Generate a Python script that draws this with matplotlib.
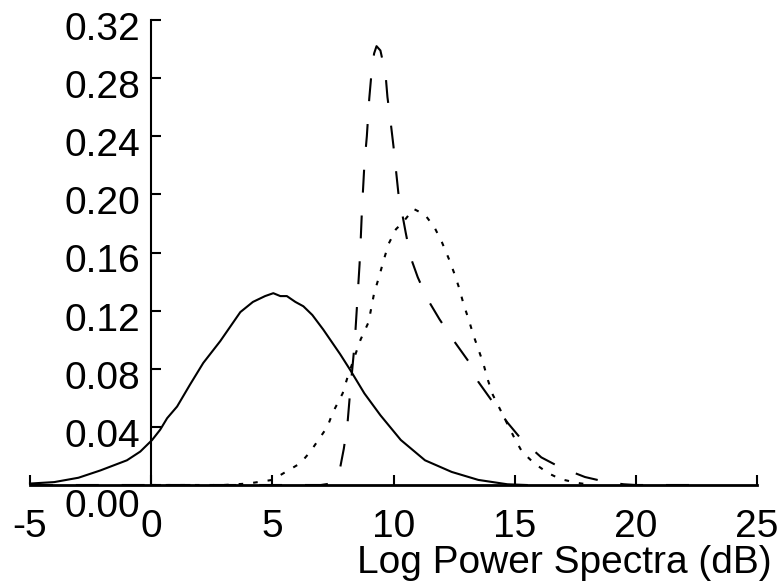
import matplotlib.pyplot as plt
import matplotlib.transforms as mtransforms

plt.rcParams['font.family'] = ['Liberation Sans', 'DejaVu Sans']

# values
solid_x = [-5.0, -4.0, -3.5, -3.0, -2.1, -1.0, -0.45, 0.04, 0.37, 0.66, 1.07, 1.6,
           2.15, 2.85, 3.68, 4.2, 4.7, 5.04, 5.33, 5.6, 5.95, 6.28, 6.65, 7.1,
           7.8, 8.22, 8.8, 9.46, 10.3, 11.3, 12.4, 13.5, 14.7, 15.5]
solid_y = [0.001, 0.002, 0.0035, 0.005, 0.010, 0.017, 0.023, 0.031, 0.038, 0.046,
           0.054, 0.069, 0.084, 0.099, 0.119, 0.126, 0.130, 0.132, 0.130, 0.130,
           0.126, 0.123, 0.117, 0.107, 0.090, 0.079, 0.063, 0.048, 0.031, 0.017,
           0.009, 0.0035, 0.0005, 0.0]

dash_x = [-5.0, 7.0, 7.4, 7.6, 7.8, 7.95, 8.1, 8.2, 8.3, 8.4, 8.5, 8.6, 8.65, 8.7,
          8.8, 8.9, 9.0, 9.1, 9.2, 9.3, 9.46, 9.67, 9.75, 9.88, 10.0, 10.1, 10.2,
          10.5, 10.7, 11.0, 11.4, 11.9, 12.5, 13.1, 13.5, 14.1, 14.7, 15.3, 16.1,
          16.9, 17.9, 18.8, 19.5, 20.0, 22.5]
dash_y = [0.0, 0.0, 0.001, 0.004, 0.012, 0.025, 0.042, 0.062, 0.080, 0.098, 0.125,
          0.152, 0.170, 0.190, 0.221, 0.240, 0.266, 0.285, 0.297, 0.302, 0.299,
          0.283, 0.267, 0.250, 0.233, 0.217, 0.201, 0.174, 0.157, 0.143, 0.128,
          0.114, 0.099, 0.085, 0.071, 0.057, 0.043, 0.031, 0.019, 0.012, 0.0055,
          0.002, 0.0005, 0.0, 0.0]

dot_x = [0.0, 3.0, 4.0, 4.4, 5.0, 5.45, 6.16, 6.57, 6.9, 7.27, 7.5, 7.9, 8.1, 8.43,
         8.64, 8.97, 9.2, 9.4, 9.6, 9.8, 10.1, 10.4, 10.83, 11.3, 11.7, 12.0,
         12.3, 12.5, 12.7, 12.9, 13.1, 13.3, 13.7, 13.9, 14.1, 14.4, 15.0, 15.3,
         15.8, 16.4, 16.9, 17.6, 18.2]
dot_y = [0.0, 0.0, 0.001, 0.002, 0.0035, 0.008, 0.015, 0.023, 0.031, 0.040, 0.050,
         0.063, 0.074, 0.090, 0.100, 0.112, 0.132, 0.143, 0.155, 0.166, 0.176,
         0.181, 0.190, 0.186, 0.177, 0.167, 0.155, 0.146, 0.136, 0.124,
         0.114, 0.103, 0.084, 0.072, 0.062, 0.052, 0.032, 0.023, 0.015, 0.008,
         0.004, 0.0014, 0.0]

xticks = [-5, 0, 5, 10, 15, 20, 25]
yticks = [0.00, 0.04, 0.08, 0.12, 0.16, 0.20, 0.24, 0.28, 0.32]
ytick_labels = ['0.00', '0.04', '0.08', '0.12', '0.16', '0.20', '0.24', '0.28', '0.32']

fig = plt.figure(figsize=(7.8, 5.83), dpi=100)
ax = fig.add_axes([30 / 780, 98 / 583, 727 / 780, 465 / 583])

ax.plot(solid_x, solid_y, color='black', lw=1.5, clip_on=False)
ax.plot(dash_x, dash_y, color='black', lw=1.5, dashes=(11, 11), clip_on=False)
ax.plot(dot_x, dot_y, color='black', lw=1.5, dashes=(2.2, 4.8), clip_on=False)

ax.set_xlim(-5, 25)
ax.set_ylim(0, 0.32)

ax.spines['left'].set_position(('data', 0))
ax.spines['bottom'].set_position(('data', 0))
ax.spines['right'].set_visible(False)
ax.spines['top'].set_visible(False)
ax.spines['left'].set_linewidth(1.5)
ax.spines['bottom'].set_linewidth(2)

ax.set_xticks(xticks)
ax.set_xticklabels([str(t) for t in xticks])
ax.set_yticks(yticks)
ax.set_yticklabels(ytick_labels)
ax.tick_params(axis='x', direction='in', length=7, width=1.5, pad=17, labelsize=28)
ax.tick_params(axis='y', direction='in', length=7, width=1.5, pad=8, labelsize=28)

# y labels sit a little below their ticks, 0.00 pushed further down
for lab in ax.get_yticklabels():
    dy = -18 if lab.get_text() == '0.00' else -6
    lab.set_transform(lab.get_transform() +
                      mtransforms.ScaledTranslation(0, dy / 100, fig.dpi_scale_trans))

fig.text(772 / 780, 20 / 583, 'Log Power Spectra (dB)', ha='right', va='center',
         fontsize=28)

fig.savefig('out.png', dpi=100)
